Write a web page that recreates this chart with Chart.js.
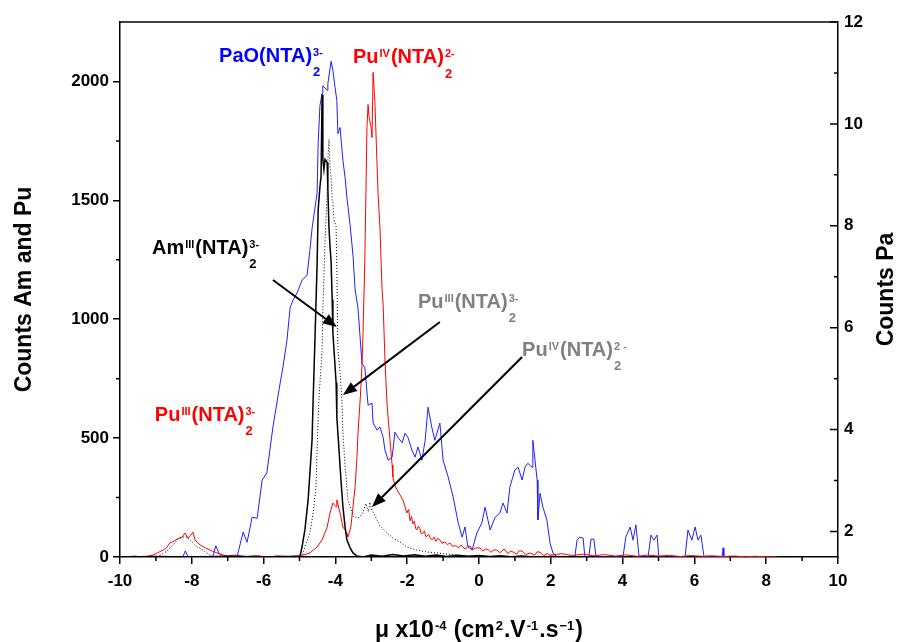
<!DOCTYPE html>
<html>
<head>
<meta charset="utf-8">
<script src="https://cdn.jsdelivr.net/npm/chart.js@4.4.1/dist/chart.umd.min.js"></script>
<style>
  html, body { margin: 0; padding: 0; background: #fff; }
  #wrap { width: 900px; height: 642px; position: relative; }
</style>
</head>
<body>
<div id="wrap"><canvas id="chart"></canvas></div>
<script>
/* Electrophoregram: mobility vs counts (Am, Pu left axis / Pa right axis) */

// x ticks and axis ranges
const xTicks = [-10, -8, -6, -4, -2, 0, 2, 4, 6, 8, 10];
const yTicks = [0, 500, 1000, 1500, 2000];
const y2Ticks = [2, 4, 6, 8, 10, 12];

// PaO(NTA)2 3- (blue, counts Pa, right axis)
const paX = [-8.40, -8.25, -8.18, -8.10, -7.42, -7.33, -7.25, -7.15, -6.74, -6.57, -6.46, -6.32, -6.18, -6.04, -5.91, -5.74, -5.54, -5.46, -5.35, -5.26, -5.18, -5.07, -4.93, -4.79, -4.71, -4.65, -4.51, -4.48, -4.43, -4.37, -4.35, -4.23, -4.21, -4.12, -4.07, -4.01, -3.96, -3.93, -3.87, -3.79, -3.73, -3.68, -3.59, -3.51, -3.45, -3.37, -3.26, -3.18, -3.09, -2.98, -2.95, -2.84, -2.76, -2.67, -2.62, -2.53, -2.42, -2.34, -2.26, -2.14, -2.06, -1.98, -1.87, -1.78, -1.70, -1.59, -1.50, -1.42, -1.31, -1.23, -1.09, -1.00, -0.86, -0.72, -0.58, -0.47, -0.39, -0.31, -0.19, -0.06, 0.08, 0.17, 0.31, 0.45, 0.58, 0.67, 0.78, 0.86, 1.00, 1.09, 1.20, 1.28, 1.36, 1.48, 1.50, 1.62, 1.64, 1.70, 1.78, 1.89, 1.98, 2.06, 2.17, 2.67, 2.73, 2.81, 2.90, 2.95, 3.06, 3.12, 3.20, 3.26, 4.01, 4.09, 4.21, 4.29, 4.37, 4.46, 4.71, 4.79, 4.87, 4.96, 5.01, 5.74, 5.82, 5.93, 6.02, 6.10, 6.18, 6.27, 6.77, 6.80, 6.82, 6.90];
const paY = [1.5, 1.5, 1.62, 1.5, 1.5, 1.72, 1.58, 1.5, 1.5, 1.99, 1.79, 2.28, 2.26, 3.01, 3.15, 4.05, 4.91, 5.23, 5.75, 6.40, 6.54, 6.68, 6.93, 7.03, 7.52, 7.95, 8.64, 9.62, 10.36, 10.60, 10.75, 10.66, 10.79, 11.23, 11.05, 10.72, 10.46, 9.81, 9.93, 9.28, 8.95, 8.56, 8.01, 7.42, 6.74, 6.38, 5.30, 5.22, 4.48, 4.52, 4.13, 3.99, 4.05, 3.85, 3.60, 3.40, 3.46, 3.95, 3.85, 3.74, 3.93, 3.85, 3.60, 3.46, 3.66, 3.40, 3.79, 4.44, 4.03, 3.79, 4.13, 3.40, 3.07, 2.68, 2.17, 1.89, 2.09, 1.70, 1.64, 1.97, 2.17, 2.48, 2.03, 2.28, 2.36, 2.56, 2.36, 2.87, 3.21, 3.26, 3.01, 3.26, 3.34, 3.26, 3.79, 3.01, 2.23, 2.75, 2.48, 2.23, 1.77, 1.58, 1.5, 1.5, 1.83, 1.89, 1.87, 1.5, 1.5, 1.85, 1.85, 1.5, 1.5, 1.89, 2.09, 1.83, 2.13, 1.5, 1.5, 1.93, 1.83, 1.93, 1.5, 1.5, 2.03, 1.83, 2.09, 1.83, 1.93, 1.5, 1.5, 1.68, 1.5, 1.5];

// Pu (red, left axis)
const puX = [-9.90, -9.60, -9.35, -9.08, -8.95, -8.80, -8.70, -8.61, -8.50, -8.41, -8.27, -8.19, -8.11, -8.03, -7.97, -7.91, -7.84, -7.77, -7.62, -7.49, -7.30, -7.15, -7.02, -6.80, -6.50, -6.20, -5.90, -5.60, -5.30, -5.05, -4.90, -4.71, -4.51, -4.37, -4.23, -4.15, -4.07, -3.98, -3.96, -3.87, -3.79, -3.68, -3.65, -3.57, -3.51, -3.45, -3.40, -3.37, -3.31, -3.26, -3.23, -3.18, -3.12, -3.09, -3.06, -3.01, -2.98, -2.95, -2.90, -2.84, -2.81, -2.76, -2.70, -2.67, -2.62, -2.56, -2.48, -2.42, -2.40, -2.34, -2.28, -2.20, -2.12, -2.01, -1.96, -1.92, -1.88, -1.84, -1.80, -1.76, -1.73, -1.69, -1.65, -1.61, -1.56, -1.52, -1.48, -1.45, -1.40, -1.36, -1.31, -1.25, -1.20, -1.15, -1.09, -1.03, -0.95, -0.88, -0.81, -0.74, -0.65, -0.57, -0.50, -0.45, -0.38, -0.31, -0.25, -0.18, -0.10, 0.03, 0.10, 0.18, 0.25, 0.33, 0.42, 0.50, 0.58, 0.70, 0.80, 0.88, 0.95, 1.05, 1.12, 1.20, 1.30, 1.42, 1.55, 1.62, 1.70, 1.80, 1.90, 1.98, 2.30, 2.60, 2.90, 3.20, 3.50, 3.80, 4.10, 4.40, 4.70, 5.00, 5.30, 5.60, 5.90, 6.20, 6.50, 6.80, 7.10, 7.40, 7.70, 8.00, 8.30];
const puY = [0, 4, 0, 8, 18, 29, 40, 59, 66, 76, 84, 101, 80, 92, 105, 72, 60, 51, 38, 29, 17, 10, 4, 8, 2, 6, 0, 5, 2, 6, 8, 17, 42, 72, 126, 185, 227, 211, 240, 185, 126, 101, 84, 126, 211, 295, 421, 522, 661, 800, 943, 1251, 1811, 1903, 1848, 1811, 1764, 2038, 1916, 1651, 1524, 1389, 1124, 1061, 829, 640, 493, 387, 337, 300, 282, 261, 240, 185, 200, 152, 170, 139, 150, 118, 114, 130, 120, 98, 101, 110, 85, 88, 95, 80, 72, 84, 66, 78, 72, 58, 63, 52, 59, 45, 48, 38, 50, 42, 33, 45, 46, 30, 38, 38, 25, 33, 32, 20, 30, 29, 18, 34, 15, 24, 21, 12, 26, 25, 10, 17, 8, 22, 20, 6, 15, 8, 14, 6, 12, 5, 10, 4, 9, 3, 8, 4, 7, 2, 6, 3, 5, 2, 4, 1, 3, 1, 0];

// Am(III) (black solid, left axis)
const amX = [-10.0, -9.0, -8.0, -7.0, -6.0, -5.2, -4.99, -4.93, -4.85, -4.76, -4.71, -4.65, -4.62, -4.57, -4.51, -4.48, -4.43, -4.40, -4.37, -4.35, -4.32, -4.29, -4.23, -4.21, -4.18, -4.15, -4.12, -4.09, -4.07, -3.98, -3.96, -3.90, -3.84, -3.79, -3.73, -3.68, -3.59, -3.51, -3.40, -3.23, -3.00, -2.70, -2.40, -2.10, -1.80, -1.50, -1.20, -0.90, -0.60, -0.30, 0.00, 0.30, 0.60, 0.90, 1.20, 1.50, 2.00, 3.00];
const amY = [0, 2, 0, 3, 0, 2, 0, 42, 114, 240, 354, 493, 661, 914, 1229, 1461, 1558, 1600, 1945, 1672, 1629, 1672, 1659, 1545, 1389, 1305, 1242, 1082, 943, 733, 589, 451, 312, 211, 126, 72, 38, 17, 4, 0, 8, 3, 10, 4, 9, 3, 8, 2, 7, 3, 6, 2, 5, 1, 4, 0, 2, 0];

// Pu total (black dotted, left axis)
const totX = [-9.80, -9.30, -8.97, -8.83, -8.69, -8.52, -8.38, -8.25, -8.13, -7.99, -7.86, -7.77, -7.58, -7.41, -6.80, -6.20, -5.60, -4.93, -4.85, -4.71, -4.62, -4.54, -4.51, -4.46, -4.37, -4.35, -4.29, -4.23, -4.21, -4.18, -4.15, -4.12, -4.09, -4.07, -4.04, -3.98, -3.96, -3.93, -3.87, -3.82, -3.79, -3.73, -3.68, -3.65, -3.59, -3.51, -3.40, -3.31, -3.23, -3.15, -3.08, -3.04, -2.98, -2.95, -2.84, -2.76, -2.56, -2.40, -2.20, -2.01, -1.73, -1.45, -1.17, -0.61, -0.06, 1.00, 2.00];
const totY = [0, 3, 0, 12, 25, 51, 76, 84, 84, 63, 42, 38, 17, 0, 3, 0, 2, 0, 42, 101, 185, 295, 451, 661, 872, 1040, 1322, 1533, 1672, 1756, 1642, 1600, 1503, 1491, 1419, 1389, 1208, 872, 775, 661, 522, 379, 295, 240, 211, 173, 164, 168, 189, 225, 190, 230, 195, 189, 156, 131, 101, 80, 63, 42, 29, 21, 17, 8, 0, 2, 0];

const FONT = "'Liberation Sans', Arial, sans-serif";

// annotation labels, in data units of x / left y
const notes = [
  { x: -7.24, y: 2082, color: '#0000ff', parts: [{ t: 'PaO(NTA)' }, { sup: '3-', sub: '2' }] },
  { x: -3.51, y: 2077, color: '#ff0000', parts: [{ t: 'Pu' }, { sup: 'IV' }, { t: '(NTA)' }, { sup: '2-', sub: '2' }] },
  { x: -9.11, y: 1274, color: '#000000', parts: [{ t: 'Am' }, { sup: 'III' }, { t: '(NTA)' }, { sup: '3-', sub: '2' }] },
  { x: -1.70, y: 1047, color: '#808080', parts: [{ t: 'Pu' }, { sup: 'III' }, { t: '(NTA)' }, { sup: '3-', sub: '2' }] },
  { x: 1.20, y: 845, color: '#808080', parts: [{ t: 'Pu' }, { sup: 'IV' }, { t: '(NTA)' }, { sup: '2 -', sub: '2' }] },
  { x: -9.03, y: 572, color: '#ff0000', parts: [{ t: 'Pu' }, { sup: 'III' }, { t: '(NTA)' }, { sup: '3-', sub: '2' }] },
];
const arrows = [
  [-5.74, 1165, -3.96, 967],
  [-1.09, 988, -3.79, 681],
  [1.20, 841, -2.98, 210],
];

function pts(xs, ys) {
  return xs.map((x, i) => ({ x, y: ys[i] }));
}

function drawRich(ctx, x, y, parts, color, size) {
  ctx.fillStyle = color;
  ctx.textAlign = 'left';
  ctx.textBaseline = 'alphabetic';
  parts.forEach((p) => {
    if (p.t) {
      ctx.font = `bold ${size}px ${FONT}`;
      ctx.fillText(p.t, x, y);
      x += ctx.measureText(p.t).width;
    } else {
      let w = 0;
      if (p.sup) {
        ctx.font = `bold ${Math.round(size * 0.55)}px ${FONT}`;
        ctx.fillText(p.sup, x + 1, y - size * 0.3);
        w = ctx.measureText(p.sup).width + 1;
      }
      if (p.sub) {
        ctx.font = `bold ${Math.round(size * 0.63)}px ${FONT}`;
        ctx.fillText(p.sub, x + 1, y + size * 0.72);
        w = Math.max(w, ctx.measureText(p.sub).width + 1);
      }
      x += w + 1;
    }
  });
  return x;
}

function richWidth(ctx, parts, size) {
  ctx.save();
  ctx.globalAlpha = 0;
  const w = drawRich(ctx, 0, 0, parts, '#000', size);
  ctx.restore();
  return w;
}

const extras = {
  id: 'extras',
  afterDraw(chart) {
    const { ctx, chartArea: a, scales } = chart;
    const sx = scales.x, sy = scales.y, sy2 = scales.y2;
    ctx.save();
    ctx.strokeStyle = '#000';
    ctx.lineWidth = 1.5;
    // top frame
    ctx.beginPath();
    ctx.moveTo(a.left, a.top);
    ctx.lineTo(a.right, a.top);
    ctx.stroke();
    // minor ticks
    ctx.beginPath();
    for (let v = -9; v <= 9; v += 2) {
      const px = sx.getPixelForValue(v);
      ctx.moveTo(px, a.bottom);
      ctx.lineTo(px, a.bottom + 4);
    }
    for (let v = 250; v <= 1750; v += 500) {
      const py = sy.getPixelForValue(v);
      ctx.moveTo(a.left - 4, py);
      ctx.lineTo(a.left, py);
    }
    for (let v = 3; v <= 11; v += 2) {
      const py = sy2.getPixelForValue(v);
      ctx.moveTo(a.right - 4, py);
      ctx.lineTo(a.right, py);
    }
    // right axis major ticks point inward
    y2Ticks.forEach((v) => {
      const py = sy2.getPixelForValue(v);
      ctx.moveTo(a.right - 8, py);
      ctx.lineTo(a.right, py);
    });
    ctx.stroke();

    // arrows
    ctx.lineWidth = 2;
    ctx.fillStyle = '#000';
    arrows.forEach(([x1, y1, x2, y2]) => {
      const p1 = [sx.getPixelForValue(x1), sy.getPixelForValue(y1)];
      const p2 = [sx.getPixelForValue(x2), sy.getPixelForValue(y2)];
      const ang = Math.atan2(p2[1] - p1[1], p2[0] - p1[0]);
      const len = 14, hw = 5.5;
      const bx = p2[0] - len * Math.cos(ang), by = p2[1] - len * Math.sin(ang);
      ctx.beginPath();
      ctx.moveTo(p1[0], p1[1]);
      ctx.lineTo(bx, by);
      ctx.stroke();
      ctx.beginPath();
      ctx.moveTo(p2[0], p2[1]);
      ctx.lineTo(bx + hw * Math.sin(ang), by - hw * Math.cos(ang));
      ctx.lineTo(bx - hw * Math.sin(ang), by + hw * Math.cos(ang));
      ctx.closePath();
      ctx.fill();
    });

    // species labels
    notes.forEach((n) => {
      drawRich(ctx, sx.getPixelForValue(n.x), sy.getPixelForValue(n.y), n.parts, n.color, 20);
    });

    // axis titles
    ctx.fillStyle = '#000';
    ctx.font = `bold 23px ${FONT}`;
    ctx.textAlign = 'center';
    ctx.textBaseline = 'middle';
    ctx.save();
    ctx.translate(25, (a.top + a.bottom) / 2);
    ctx.rotate(-Math.PI / 2);
    ctx.fillText('Counts Am and Pu', 0, 0);
    ctx.restore();
    ctx.save();
    ctx.translate(887, (a.top + a.bottom) / 2);
    ctx.rotate(-Math.PI / 2);
    ctx.fillText('Counts Pa', 0, 0);
    ctx.restore();

    const xTitle = [{ t: 'μ x10' }, { sup: '-4' }, { t: ' (cm' }, { sup: '2' }, { t: '.V' }, { sup: '-1' }, { t: '.s' }, { sup: '−1' }, { t: ')' }];
    const w = richWidth(ctx, xTitle, 23);
    drawRich(ctx, (a.left + a.right) / 2 - w / 2, 637, xTitle, '#000', 23);
    ctx.restore();
  },
};

const tickFont = { family: FONT, size: 17, weight: 'bold' };
const plain = (v) => String(v);

new Chart(document.getElementById('chart'), {
  type: 'line',
  data: {
    datasets: [
      { label: 'Am', data: pts(amX, amY), borderColor: '#000000', borderWidth: 1.5, yAxisID: 'y', order: 1 },
      { label: 'Pu total', data: pts(totX, totY), borderColor: '#000000', borderWidth: 1, borderDash: [1, 2], yAxisID: 'y', order: 2 },
      { label: 'Pu', data: pts(puX, puY), borderColor: '#ff0000', borderWidth: 1, yAxisID: 'y', order: 3 },
      { label: 'Pa', data: pts(paX, paY), borderColor: '#1f1fff', borderWidth: 1, yAxisID: 'y2', order: 4 },
    ],
  },
  options: {
    responsive: true,
    maintainAspectRatio: false,
    animation: false,
    elements: { point: { radius: 0 }, line: { tension: 0, fill: false } },
    layout: { padding: { top: 22, left: 0, right: 0, bottom: 0 } },
    plugins: { legend: { display: false }, tooltip: { enabled: false } },
    scales: {
      x: {
        type: 'linear',
        position: 'bottom',
        min: -10,
        max: 10,
        afterBuildTicks: (s) => { s.ticks = xTicks.map((v) => ({ value: v })); },
        ticks: { font: tickFont, color: '#000', padding: 7, maxRotation: 0, callback: plain },
        grid: { drawOnChartArea: false, tickLength: 7, color: '#000', lineWidth: 1.5 },
        border: { color: '#000', width: 1.5 },
        afterFit: (s) => { s.height = 85; },
      },
      y: {
        position: 'left',
        min: 0,
        max: 2250,
        afterBuildTicks: (s) => { s.ticks = yTicks.map((v) => ({ value: v })); },
        ticks: { font: tickFont, color: '#000', padding: 4, callback: plain },
        grid: { drawOnChartArea: false, tickLength: 7, color: '#000', lineWidth: 1.5 },
        border: { color: '#000', width: 1.5 },
        afterFit: (s) => { s.width = 120; },
      },
      y2: {
        position: 'right',
        min: 1.5,
        max: 12,
        afterBuildTicks: (s) => { s.ticks = y2Ticks.map((v) => ({ value: v })); },
        ticks: { font: tickFont, color: '#000', padding: 6, callback: plain },
        grid: { drawOnChartArea: false, drawTicks: false },
        border: { color: '#000', width: 1.5 },
        afterFit: (s) => { s.width = 62; },
      },
    },
  },
  plugins: [extras],
});
</script>
</body>
</html>
